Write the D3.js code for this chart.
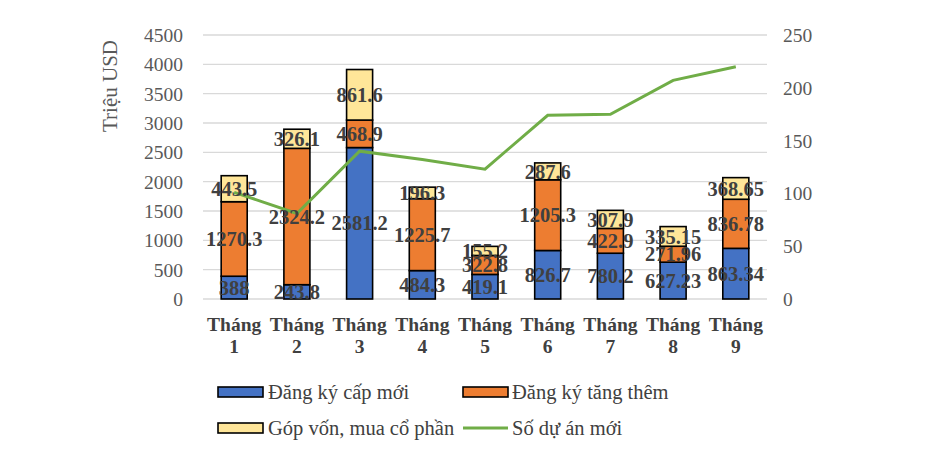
<!DOCTYPE html>
<html>
<head>
<meta charset="utf-8">
<script src="https://cdnjs.cloudflare.com/ajax/libs/d3/7.8.5/d3.min.js"></script>
<style>
body { margin: 0; background: #fff; }
</style>
</head>
<body>
<div class="chart"></div>
<script>
var width = 925,
	height = 460;

// data
var months = ["1", "2", "3", "4", "5", "6", "7", "8", "9"];
var capMoi = [388, 243.8, 2581.2, 484.3, 419.1, 826.7, 780.2, 627.23, 863.34];
var tangThem = [1270.3, 2324.2, 468.9, 1225.7, 322.8, 1205.3, 422.9, 271.96, 836.78];
var gopVon = [443.5, 326.1, 861.6, 196.3, 155.2, 287.6, 307.9, 335.15, 368.65];
var soDuAn = [101, 81, 140, 132, 123, 174, 175, 207, 220];
var leftTicks = [0, 500, 1000, 1500, 2000, 2500, 3000, 3500, 4000, 4500];
var rightTicks = [0, 50, 100, 150, 200, 250];

var seriesNames = ["Đăng ký cấp mới", "Đăng ký tăng thêm", "Góp vốn, mua cổ phần", "Số dự án mới"];
var colors = ["#4472C4", "#ED7D31", "#FFE699", "#70AD47"];
var serif = "'Liberation Serif', serif";

var svg = d3.select(".chart").append("svg").attr("width", width).attr("height", height);

var x = d3.scaleBand().domain(months).range([203, 767]).paddingInner(0.585).paddingOuter(0.29);
var y = d3.scaleLinear().domain([0, 4500]).range([299, 35]);
var y2 = d3.scaleLinear().domain([0, 250]).range([299, 35]);

// gridlines
svg.append("g").selectAll("line").data(leftTicks).enter().append("line")
	.attr("x1", 203).attr("x2", 767)
	.attr("y1", function(d){ return y(d); }).attr("y2", function(d){ return y(d); })
	.attr("stroke", "#d9d9d9").attr("stroke-width", 1.3);

// left axis
var yAxis = svg.append("g").attr("transform", "translate(183,0)")
	.call(d3.axisLeft(y).tickValues(leftTicks).tickFormat(d3.format("d")).tickSize(0).tickPadding(0));
yAxis.select(".domain").remove();
yAxis.selectAll("text").attr("font-size", "19.5px").attr("fill", "#595959")
	.style("font-family", serif).attr("dy", "0.33em");

// right axis
var yAxis2 = svg.append("g").attr("transform", "translate(783,0)")
	.call(d3.axisRight(y2).tickValues(rightTicks).tickFormat(d3.format("d")).tickSize(0).tickPadding(0));
yAxis2.select(".domain").remove();
yAxis2.selectAll("text").attr("font-size", "19.5px").attr("fill", "#595959")
	.style("font-family", serif).attr("dy", "0.33em");

// y title
svg.append("text").attr("transform", "translate(117,86) rotate(-90)")
	.attr("text-anchor", "middle").attr("font-size", "21px").attr("fill", "#595959")
	.style("font-family", serif)
	.text("Triệu USD");

// stacked bars
var rows = months.map(function(m, i){ return {m: m, a: capMoi[i], b: tangThem[i], c: gopVon[i]}; });
var stack = d3.stack().keys(["a", "b", "c"])(rows);

var groups = svg.append("g").selectAll("g").data(stack).enter().append("g")
	.attr("fill", function(d, i){ return colors[i]; });
groups.selectAll("rect").data(function(d){ return d; }).enter().append("rect")
	.attr("x", function(d){ return x(d.data.m); })
	.attr("width", x.bandwidth())
	.attr("y", function(d){ return y(d[1]); })
	.attr("height", function(d){ return y(d[0]) - y(d[1]); })
	.attr("stroke", "#000").attr("stroke-width", 1.6);

// line
var line = d3.line()
	.x(function(d, i){ return x(months[i]) + x.bandwidth() / 2; })
	.y(function(d){ return y2(d); });
svg.append("path").datum(soDuAn).attr("d", line)
	.attr("fill", "none").attr("stroke", colors[3]).attr("stroke-width", 3);

// data labels
var labels = svg.append("g");
stack.forEach(function(s){
	labels.selectAll(null).data(s).enter().append("text")
		.attr("x", function(d){ return x(d.data.m) + x.bandwidth() / 2; })
		.attr("y", function(d){ return (y(d[0]) + y(d[1])) / 2; })
		.attr("dy", "0.35em")
		.attr("text-anchor", "middle")
		.style("font-family", serif)
		.attr("font-size", "20.5px").attr("font-weight", "bold").attr("fill", "#404040")
		.text(function(d){ return +(d[1] - d[0]).toFixed(2); });
});

// x labels
var xl = svg.append("g").selectAll("text").data(months).enter().append("text")
	.attr("x", function(d){ return x(d) + x.bandwidth() / 2; })
	.attr("y", 331)
	.attr("text-anchor", "middle")
	.style("font-family", serif)
	.attr("font-size", "19.5px").attr("font-weight", "bold").attr("fill", "#404040");
xl.append("tspan").attr("x", function(d){ return x(d) + x.bandwidth() / 2; }).text("Tháng");
xl.append("tspan").attr("x", function(d){ return x(d) + x.bandwidth() / 2; }).attr("dy", 22).text(function(d){ return d; });

// legend
var legendPos = [[218, 392], [463, 392], [218, 428], [463, 428]];
var legend = svg.append("g").selectAll("g").data(seriesNames).enter().append("g")
	.attr("transform", function(d, i){ return "translate(" + legendPos[i][0] + "," + legendPos[i][1] + ")"; });
legend.each(function(d, i){
	var g = d3.select(this);
	if (i < 3) {
		g.append("rect").attr("x", 0).attr("y", -5).attr("width", 45).attr("height", 10)
			.attr("fill", colors[i]).attr("stroke", "#000").attr("stroke-width", 1.6);
	} else {
		g.append("line").attr("x1", 0).attr("x2", 45).attr("y1", 0).attr("y2", 0)
			.attr("stroke", colors[3]).attr("stroke-width", 3);
	}
	g.append("text").attr("x", i % 2 == 1 ? 49 : 50).attr("dy", "0.33em")
		.style("font-family", serif)
		.attr("font-size", "20.5px").attr("fill", "#404040").text(d);
});
</script>
</body>
</html>
